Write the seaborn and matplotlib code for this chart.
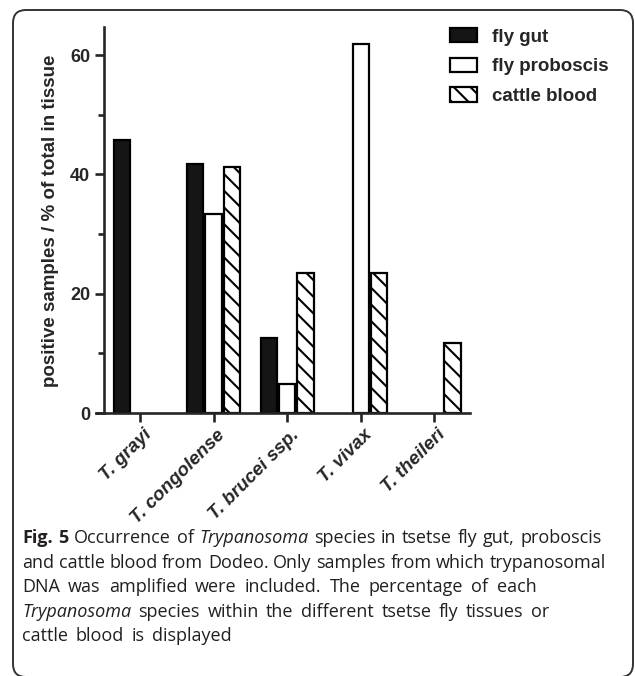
import numpy as np
import pandas as pd
import matplotlib
matplotlib.use("Agg")
import matplotlib.pyplot as plt
import matplotlib.transforms as mtrans
import seaborn as sns
from matplotlib.patches import Patch, FancyBboxPatch

# data (% of positive samples per tissue)
species = ["T. grayi", "T. congolense", "T. brucei ssp.", "T. vivax", "T. theileri"]
tissues = ["fly gut", "fly proboscis", "cattle blood"]
fly_gut = [45.8, 41.7, 12.5, 0.0, 0.0]
fly_proboscis = [0.0, 33.3, 4.8, 61.9, 0.0]
cattle_blood = [0.0, 41.2, 23.5, 23.5, 11.8]
y_ticks = [0, 20, 40, 60]

# caption, split into (text, style, weight) pieces per line
caption_lines = [
    [("Fig. 5", "normal", "bold"), ("Occurrence of", "normal", "normal"),
     ("Trypanosoma", "italic", "normal"),
     ("species in tsetse fly gut, proboscis", "normal", "normal")],
    [("and cattle blood from Dodeo. Only samples from which trypanosomal", "normal", "normal")],
    [("DNA was amplified were included. The percentage of each", "normal", "normal")],
    [("Trypanosoma", "italic", "normal"),
     ("species within the different tsetse fly tissues or", "normal", "normal")],
    [("cattle blood is displayed", "normal", "normal")],
]
# extra space between words (px), the caption is justified
caption_gaps = [1.0, 0.0, 3.5, 2.8, 3.0]

df = pd.DataFrame({
    "species": species * 3,
    "tissue": np.repeat(tissues, len(species)),
    "percent": fly_gut + fly_proboscis + cattle_blood,
})

sns.set_style("ticks")
plt.rcParams["font.family"] = ["Liberation Sans", "DejaVu Sans"]
plt.rcParams["hatch.linewidth"] = 1.5

fig = plt.figure(figsize=(6.35, 6.76), dpi=100)
ax = fig.add_axes([95.5 / 635, 263 / 676, 374 / 635, 386 / 676])

palette = {"fly gut": "#151515", "fly proboscis": "white", "cattle blood": "white"}
sns.barplot(data=df, x="species", y="percent", hue="tissue", hue_order=tissues,
            palette=palette, edgecolor="black", linewidth=1.6, width=0.75,
            gap=0.12, saturation=1, legend=False, ax=ax)

for bar in ax.containers[2]:
    bar.set_hatch("\\\\")
for cont in ax.containers:
    for bar in cont:
        if bar.get_height() == 0:
            bar.set_visible(False)

ax.set_xlim(-0.605, 4.48)
ax.set_ylim(0, 64.7)
ax.set_yticks(y_ticks)
ax.set_yticks([10, 30, 50], minor=True)
ax.set_xlabel("")
ax.set_ylabel("positive samples / % of total in tissue", fontsize=13.5,
              fontweight="bold", va="center")
ax.yaxis.set_label_coords(-0.12, 0.497)
sns.despine(ax=ax)
ax.spines["left"].set_position(("outward", -5.8))
for s in ["left", "bottom"]:
    ax.spines[s].set_linewidth(1.9)
ax.tick_params(axis="both", which="major", length=6.5, width=1.9, labelsize=13, pad=3)
ax.tick_params(axis="y", which="minor", length=4.5, width=1.9)
for lab in ax.get_yticklabels():
    lab.set_fontweight("bold")
ax.set_xticks(range(len(species)))
ax.set_xticklabels(species, rotation=45, ha="right", rotation_mode="anchor",
                   fontweight="bold", fontstyle="italic", fontsize=13.5)
shift = mtrans.ScaledTranslation(3 / 100, 0, fig.dpi_scale_trans)
for lab in ax.get_xticklabels():
    lab.set_transform(lab.get_transform() + shift)

handles = [
    Patch(facecolor="#151515", edgecolor="black", linewidth=1.6),
    Patch(facecolor="white", edgecolor="black", linewidth=1.6),
    Patch(facecolor="white", edgecolor="black", linewidth=1.6, hatch="\\\\"),
]
fig.legend(handles, tissues, loc="upper left", bbox_to_anchor=(450 / 635, 1 - 28 / 676),
           frameon=False, borderpad=0, borderaxespad=0, handlelength=1.44,
           handleheight=0.8, handletextpad=0.8, labelspacing=0.64,
           prop={"weight": "bold", "size": 13.5})

# caption, drawn word by word so bold / italic words sit inline
renderer = fig.canvas.get_renderer()
y_lines = [538, 563, 587, 612, 636]
W = fig.bbox.width
space = fig.text(0, 0, "a a", fontsize=13, family="Open Sans").get_window_extent(renderer).width \
    - fig.text(0, 0, "aa", fontsize=13, family="Open Sans").get_window_extent(renderer).width
for t in fig.texts[-2:]:
    t.remove()
for pieces, yp, extra in zip(caption_lines, y_lines, caption_gaps):
    x = 22.0
    for txt, style, weight in pieces:
        for word in txt.split(" "):
            t = fig.text(x / W, 1 - yp / 676, word, fontsize=13, family="Open Sans",
                         style=style, weight=weight, va="center", ha="left", color="#231f20")
            x += t.get_window_extent(renderer).width + space + extra

# rounded frame around figure
frame = FancyBboxPatch((0.13, -0.01), 6.20, 6.67, boxstyle="round,pad=0,rounding_size=0.13",
                       transform=fig.dpi_scale_trans, facecolor="none",
                       edgecolor="#333333", linewidth=1.4)
fig.patches.append(frame)

fig.savefig("out.png", dpi=100)
